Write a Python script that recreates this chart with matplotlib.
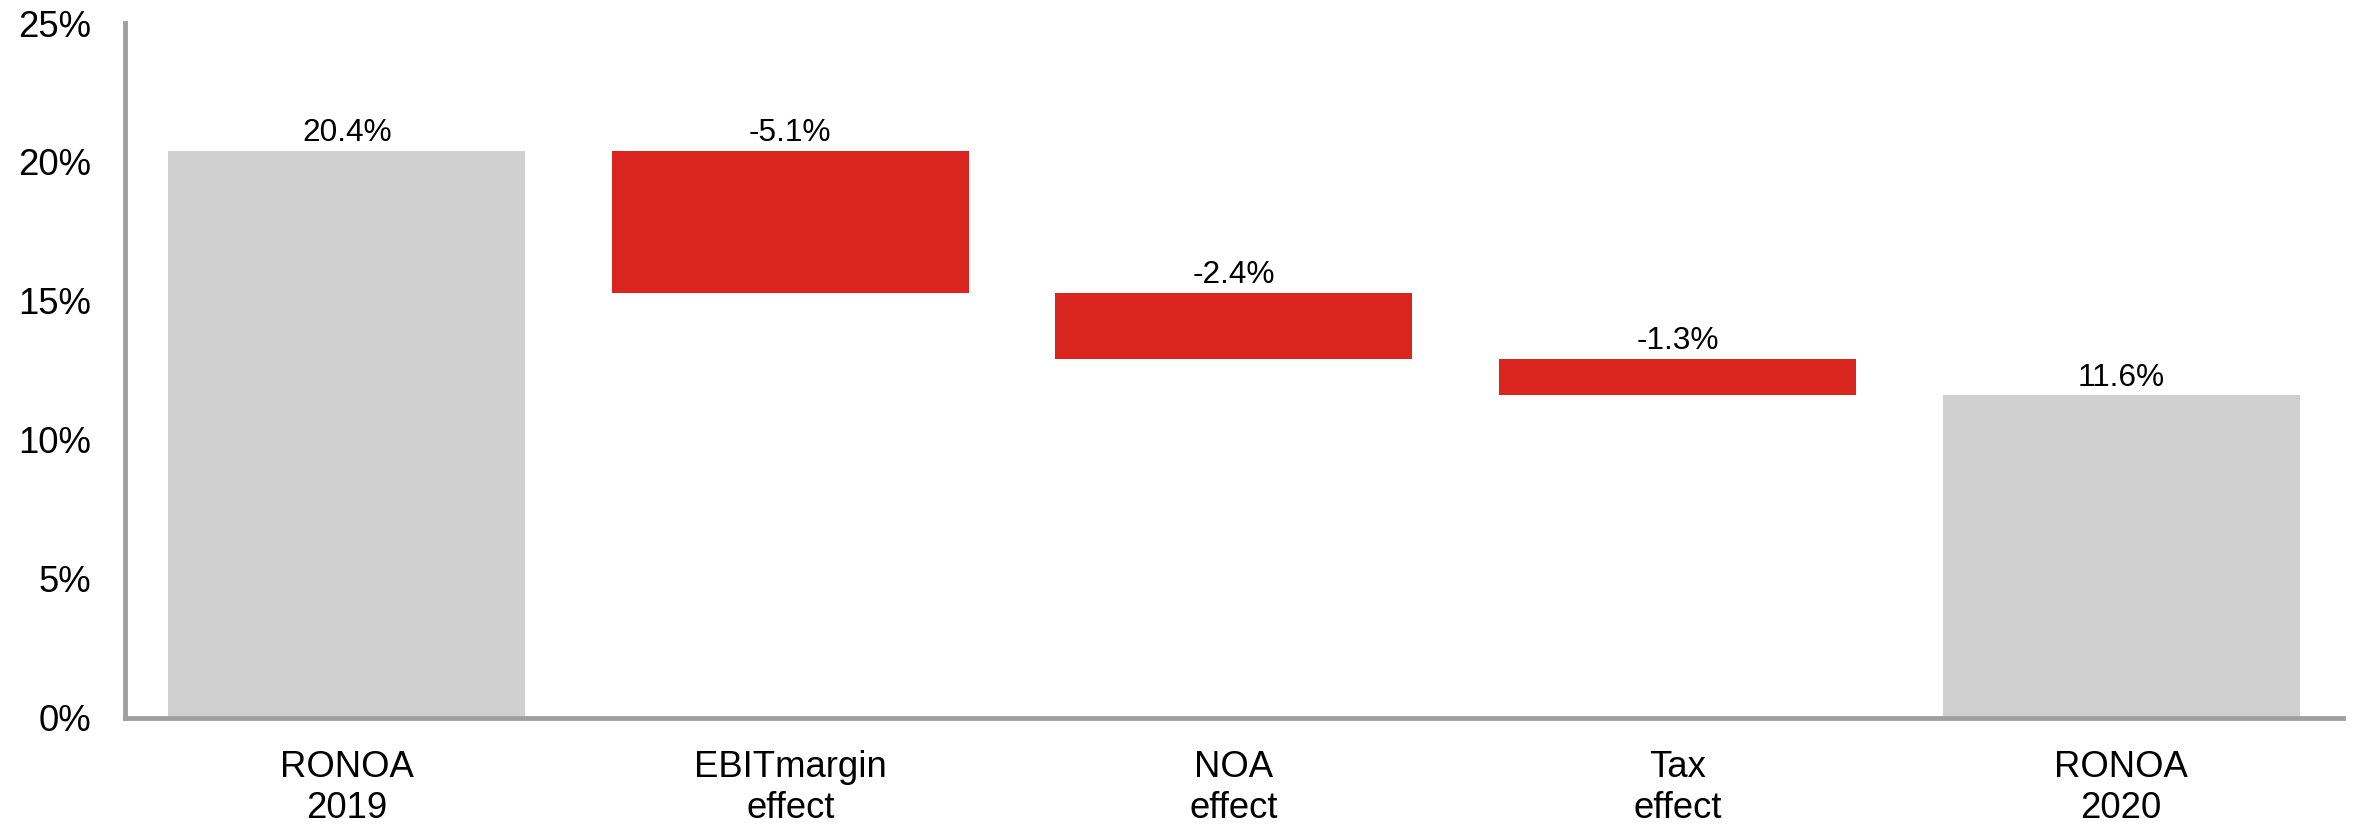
import matplotlib
matplotlib.use('Agg')
import matplotlib.pyplot as plt
import numpy as np

categories = ['RONOA\n2019', 'EBITmargin\neffect', 'NOA\neffect', 'Tax\neffect', 'RONOA\n2020']
start_value = 20.4
changes = [-5.1, -2.4, -1.3]
end_value = 11.6

plt.rcParams['font.family'] = ['Liberation Sans', 'DejaVu Sans']

grey = '#d0d0d0'
red = '#da251f'
axis_grey = '#a0a0a0'

# waterfall geometry from the values
running = start_value
bottoms = [0]
heights = [start_value]
for c in changes:
    new = running + c
    bottoms.append(min(running, new))
    heights.append(abs(c))
    running = new
bottoms.append(0)
heights.append(end_value)
colors = [grey] + [red] * len(changes) + [grey]
labels = ['%.1f%%' % start_value] + ['%.1f%%' % c for c in changes] + ['%.1f%%' % end_value]

fig = plt.figure(figsize=(23.57, 8.24), dpi=100)
ax = fig.add_axes([0.053, 0.129, 0.941, 0.843])

x = np.arange(len(categories))
bars = ax.bar(x, heights, bottom=bottoms, width=0.805, color=colors, linewidth=0)

for b, lab in zip(bars, labels):
    top = b.get_y() + b.get_height()
    ax.annotate(lab, (b.get_x() + b.get_width() / 2, top), xytext=(0, 2),
                textcoords='offset points', ha='center', va='bottom', fontsize=22.8)

ax.set_xlim(-0.5, len(categories) - 0.5)
ax.set_ylim(0, 25)
ax.set_yticks(np.arange(0, 26, 5))
ax.set_yticklabels(['%d%%' % v for v in np.arange(0, 26, 5)])
ax.set_xticks(x)
ax.set_xticklabels(categories, linespacing=1.25)

ax.tick_params(axis='both', length=0, labelsize=26.3)
ax.tick_params(axis='y', pad=24)
ax.tick_params(axis='x', pad=23)

for s in ['top', 'right']:
    ax.spines[s].set_visible(False)
for s in ['left', 'bottom']:
    ax.spines[s].set_color(axis_grey)
    ax.spines[s].set_linewidth(3.5)

fig.savefig('out.png', dpi=100)
